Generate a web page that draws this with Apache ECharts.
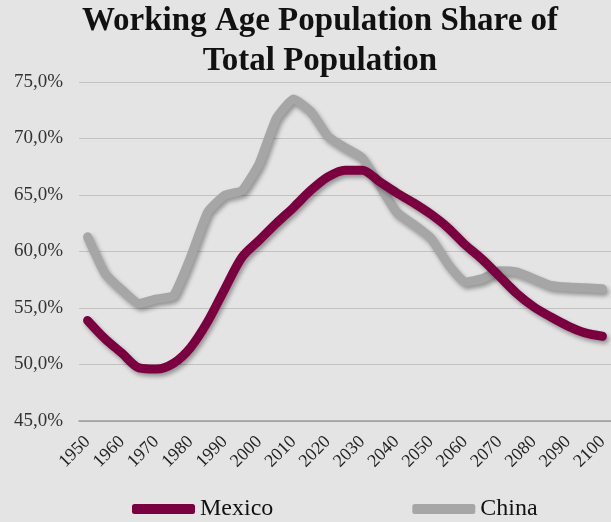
<!DOCTYPE html>
<html><head><meta charset="utf-8">
<script src="https://cdn.jsdelivr.net/npm/echarts@6/dist/echarts.min.js"></script>
<style>html,body{margin:0;padding:0;background:#e4e4e4;}#c{width:611px;height:522px;}</style>
</head><body><div id="c"></div>
<script>
const years = ['1950','1955','1960','1965','1970','1975','1980','1985','1990','1995','2000','2005','2010','2015','2020','2025','2030','2035','2040','2045','2050','2055','2060','2065','2070','2075','2080','2085','2090','2095','2100'];
const mexico = [53.9,52.3,51.0,49.7,49.6,50.1,51.5,53.8,56.7,59.5,61.0,62.5,63.9,65.4,66.6,67.2,67.2,66.2,65.2,64.3,63.3,62.1,60.6,59.3,57.8,56.3,55.1,54.2,53.4,52.8,52.5];
const china = [61.3,58.1,56.6,55.4,55.8,56.1,59.5,63.5,65.0,65.4,67.8,71.8,73.5,72.4,70.2,69.2,68.3,65.9,63.5,62.4,61.2,58.9,57.3,57.6,58.3,58.2,57.6,57.0,56.85,56.8,56.7];
const yMin = 45, yMax = 75, yStep = 5;
const titleText = 'Working Age Population Share of\nTotal Population';

const chart = echarts.init(document.getElementById('c'), null, {renderer:'canvas'});
const serif = '"Liberation Serif","DejaVu Serif",serif';
const shadow = {shadowColor:'rgba(0,0,0,0.35)', shadowBlur:4, shadowOffsetX:2, shadowOffsetY:3};
chart.setOption({
  backgroundColor:'#e4e4e4',
  animation:false,
  title:{text:titleText, left:320, textAlign:'center', top:1, padding:0,
    textStyle:{fontFamily:serif, fontWeight:'bold', fontSize:33, color:'#111', lineHeight:40}},
  legend:{top:497, left:132, padding:0, itemGap:139, itemWidth:63, itemHeight:10, icon:'roundRect',
    textStyle:{fontFamily:serif, fontSize:24, color:'#111'},
    data:['Mexico','China']},
  grid:{left:79, right:0, top:82, bottom:101, containLabel:false},
  xAxis:{type:'category', data:years, boundaryGap:true,
    axisLine:{lineStyle:{color:'#9a9a9a', width:1.5}},
    axisTick:{interval:0, length:5, lineStyle:{color:'#9a9a9a'}},
    axisLabel:{interval:1, rotate:45, margin:18, fontFamily:serif, fontSize:18, color:'#222'}},
  yAxis:{type:'value', min:yMin, max:yMax, interval:yStep,
    axisLine:{show:false}, axisTick:{show:false},
    splitLine:{lineStyle:{color:'#c2c2c2', width:1.2}},
    axisLabel:{margin:16, fontFamily:serif, fontSize:19, color:'#333',
      formatter:v=>v.toFixed(1).replace('.',',')+'%'}},
  series:[
    {name:'China', type:'line', data:china, symbol:'none', z:2, smooth:0.15,
      lineStyle:Object.assign({color:'#a6a6a6', width:9, cap:'round', join:'round'}, shadow),
      itemStyle:{color:'#a6a6a6'}},
    {name:'Mexico', type:'line', data:mexico, symbol:'none', z:3, smooth:0.3,
      lineStyle:Object.assign({color:'#7a0040', width:9, cap:'round', join:'round'}, shadow),
      itemStyle:{color:'#7a0040'}}
  ]
});
</script></body></html>
